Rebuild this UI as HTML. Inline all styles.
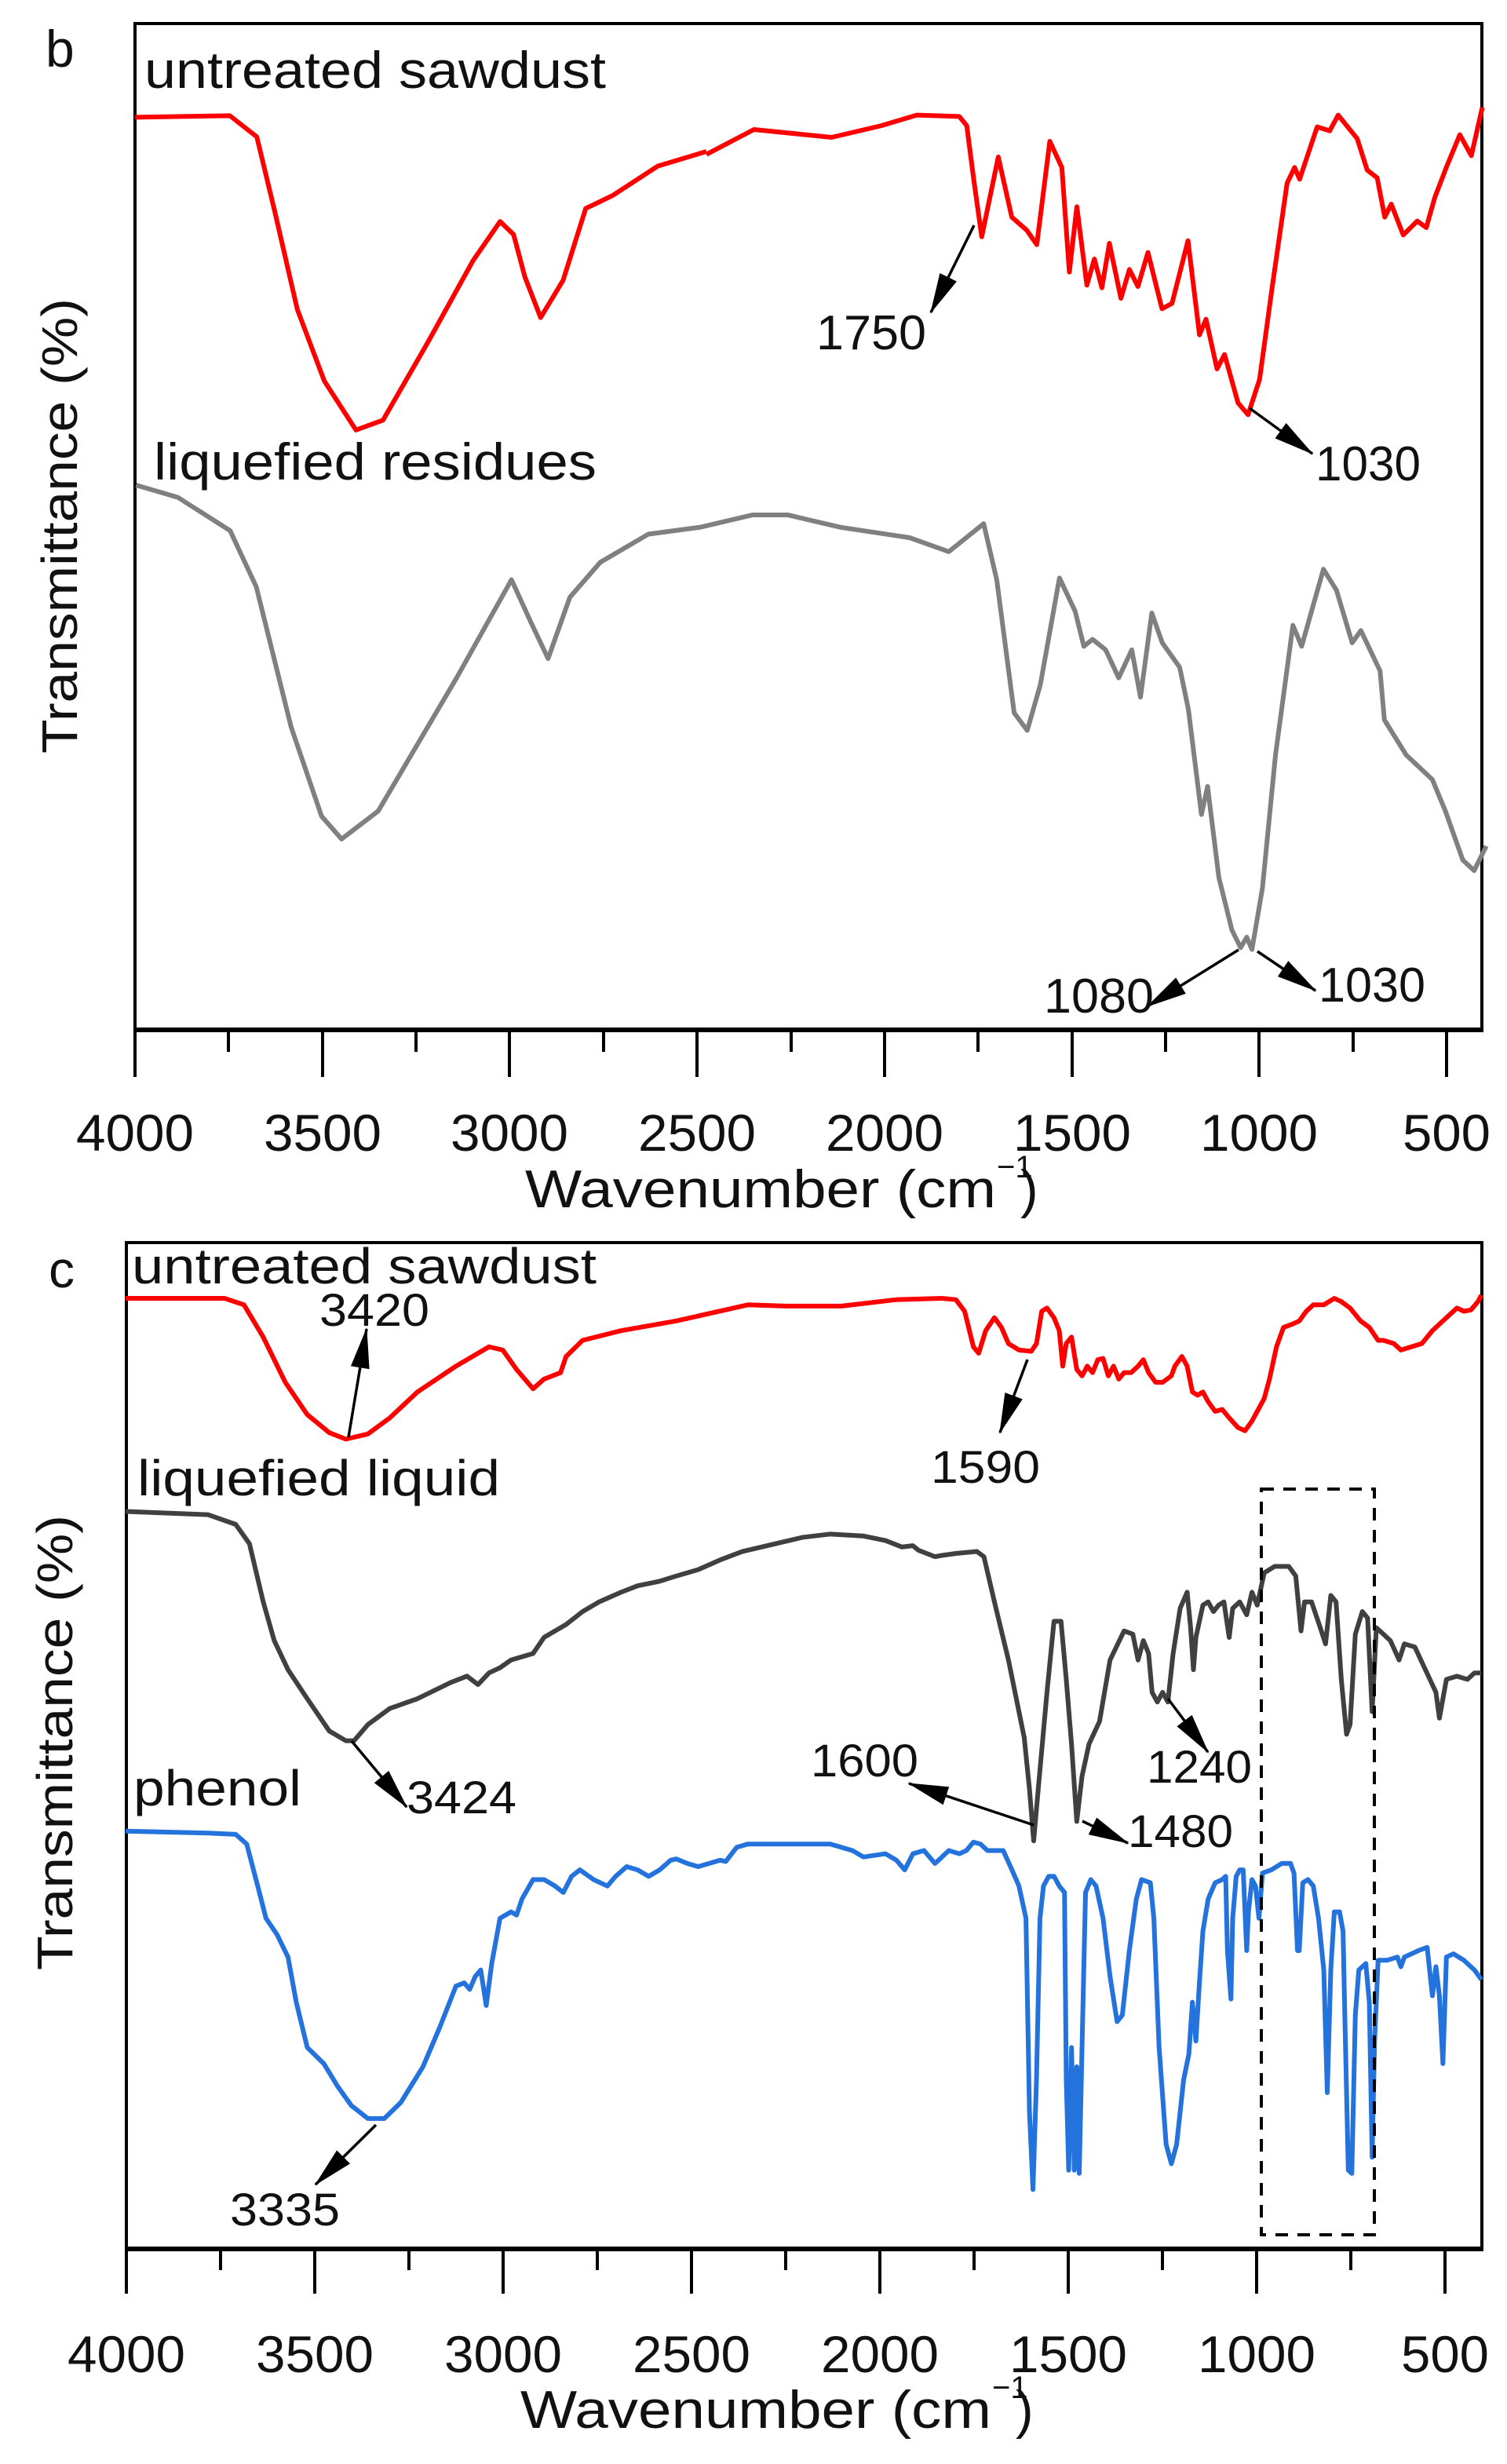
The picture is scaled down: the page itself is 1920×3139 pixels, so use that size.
<!DOCTYPE html>
<html><head><meta charset="utf-8"><style>
html,body{margin:0;padding:0;background:#fff;}
svg{display:block;}
text{font-family:"Liberation Sans",Arial,sans-serif;fill:#111;}
</style></head><body>
<svg width="1920" height="3139" viewBox="0 0 1920 3139" xmlns="http://www.w3.org/2000/svg">
<defs>
<marker id="ah" markerUnits="userSpaceOnUse" markerWidth="56" markerHeight="30" refX="50" refY="15" orient="auto">
<path d="M0,3 L52,15 L0,27 Z" fill="#000"/>
</marker>
</defs>
<rect width="1920" height="3139" fill="#fff"/>

<!-- ========== PANEL B ========== -->
<text x="58" y="85" font-size="66">b</text>
<text transform="translate(98,670) rotate(-90)" font-size="64" text-anchor="middle" textLength="580" lengthAdjust="spacingAndGlyphs">Transmittance (%)</text>
<rect x="172" y="30" width="1716" height="1282" fill="none" stroke="#000" stroke-width="4"/>
<line x1="170" y1="1312" x2="1890" y2="1312" stroke="#000" stroke-width="6"/>
<g stroke="#000" stroke-width="4">
<line x1="172" y1="1312" x2="172" y2="1372"/><line x1="291" y1="1312" x2="291" y2="1340"/>
<line x1="411" y1="1312" x2="411" y2="1372"/><line x1="530" y1="1312" x2="530" y2="1340"/>
<line x1="649" y1="1312" x2="649" y2="1372"/><line x1="769" y1="1312" x2="769" y2="1340"/>
<line x1="888" y1="1312" x2="888" y2="1372"/><line x1="1008" y1="1312" x2="1008" y2="1340"/>
<line x1="1127" y1="1312" x2="1127" y2="1372"/><line x1="1246" y1="1312" x2="1246" y2="1340"/>
<line x1="1366" y1="1312" x2="1366" y2="1372"/><line x1="1485" y1="1312" x2="1485" y2="1340"/>
<line x1="1604" y1="1312" x2="1604" y2="1372"/><line x1="1724" y1="1312" x2="1724" y2="1340"/>
<line x1="1843" y1="1312" x2="1843" y2="1372"/>
</g>
<g font-size="66" text-anchor="middle">
<text x="172" y="1466" textLength="150" lengthAdjust="spacingAndGlyphs">4000</text>
<text x="411" y="1466" textLength="150" lengthAdjust="spacingAndGlyphs">3500</text>
<text x="649" y="1466" textLength="150" lengthAdjust="spacingAndGlyphs">3000</text>
<text x="888" y="1466" textLength="150" lengthAdjust="spacingAndGlyphs">2500</text>
<text x="1127" y="1466" textLength="150" lengthAdjust="spacingAndGlyphs">2000</text>
<text x="1366" y="1466" textLength="150" lengthAdjust="spacingAndGlyphs">1500</text>
<text x="1604" y="1466" textLength="150" lengthAdjust="spacingAndGlyphs">1000</text>
<text x="1843" y="1466" textLength="112" lengthAdjust="spacingAndGlyphs">500</text>
</g>
<text x="669" y="1538" font-size="68" textLength="600" lengthAdjust="spacingAndGlyphs">Wavenumber (cm</text>
<text x="1270" y="1500" font-size="40">−1</text>
<text x="1300" y="1538" font-size="68">)</text>

<text x="184" y="112" font-size="66" textLength="588" lengthAdjust="spacingAndGlyphs">untreated sawdust</text>
<text x="196" y="611" font-size="66" textLength="564" lengthAdjust="spacingAndGlyphs">liquefied residues</text>

<g fill="none" stroke="#ff0000" stroke-width="6" stroke-linejoin="round">
<polyline vector-effect="non-scaling-stroke" transform="scale(0.574,0.415)" points="300,360 510,355 570,420 610,650 660,950 720,1170 790,1320 850,1290 950,1050 1050,800 1110,680 1140,720 1165,850 1200,975 1250,860 1300,640 1360,600 1460,510 1568,465"/>
<polyline vector-effect="non-scaling-stroke" transform="translate(900,100) scale(0.6378,0.3333)" points="0,290 95,195 250,225 350,180 420,140 505,145 520,180 535,400 550,605 583,300 610,530 640,580 660,635 686,240 710,340 725,740 740,490 760,790 775,690 790,800 805,630 828,840 845,730 862,795 882,665 910,880 930,860 962,620 985,980 998,920 1020,1110 1035,1055 1062,1240 1082,1285 1105,1150 1130,800 1160,400 1175,340 1185,385 1220,185 1245,200 1262,140 1300,230 1320,350 1340,380 1355,530 1368,480 1392,598 1420,545 1438,570 1455,455 1478,340 1505,215 1528,295 1550,110"/>
</g>
<polyline fill="none" stroke="#808080" stroke-width="6" stroke-linejoin="round" vector-effect="non-scaling-stroke" transform="translate(160,560) scale(1.1099,0.4464)" points="12,130 60,165 120,260 150,420 190,820 225,1075 248,1140 290,1060 380,680 443,400 465,520 485,625 510,450 545,350 600,270 660,250 720,215 760,215 820,250 900,280 945,320 985,240 1000,400 1020,780 1035,830 1050,700 1072,395 1090,490 1100,590 1110,570 1125,600 1140,680 1155,600 1165,735 1178,495 1190,580 1210,650 1220,770 1235,1070 1242,990 1255,1250 1270,1400 1280,1450 1287,1420 1293,1455 1305,1280 1320,900 1340,530 1350,590 1375,370 1390,430 1408,580 1418,545 1440,660 1445,800 1470,900 1500,970 1515,1060 1535,1200 1548,1230 1562,1160"/>

<g stroke="#000" stroke-width="3.5" marker-end="url(#ah)">
<line x1="1241" y1="287" x2="1186" y2="398"/>
<line x1="1592" y1="520" x2="1672" y2="578"/>
<line x1="1578" y1="1210" x2="1462" y2="1282"/>
<line x1="1602" y1="1212" x2="1676" y2="1262"/>
</g>
<g font-size="62">
<text x="1040" y="445" textLength="140" lengthAdjust="spacingAndGlyphs">1750</text>
<text x="1676" y="612" textLength="134" lengthAdjust="spacingAndGlyphs">1030</text>
<text x="1330" y="1290" textLength="140" lengthAdjust="spacingAndGlyphs">1080</text>
<text x="1680" y="1276" textLength="136" lengthAdjust="spacingAndGlyphs">1030</text>
</g>

<!-- ========== PANEL C ========== -->
<text x="62" y="1640" font-size="66">c</text>
<text transform="translate(92,2220) rotate(-90)" font-size="64" text-anchor="middle" textLength="580" lengthAdjust="spacingAndGlyphs">Transmittance (%)</text>
<rect x="161" y="1583" width="1727" height="1282" fill="none" stroke="#000" stroke-width="4"/>
<line x1="159" y1="2865" x2="1890" y2="2865" stroke="#000" stroke-width="6"/>
<g stroke="#000" stroke-width="4">
<line x1="161" y1="2865" x2="161" y2="2922"/><line x1="281" y1="2865" x2="281" y2="2892"/>
<line x1="401" y1="2865" x2="401" y2="2922"/><line x1="521" y1="2865" x2="521" y2="2892"/>
<line x1="641" y1="2865" x2="641" y2="2922"/><line x1="761" y1="2865" x2="761" y2="2892"/>
<line x1="881" y1="2865" x2="881" y2="2922"/><line x1="1001" y1="2865" x2="1001" y2="2892"/>
<line x1="1121" y1="2865" x2="1121" y2="2922"/><line x1="1241" y1="2865" x2="1241" y2="2892"/>
<line x1="1361" y1="2865" x2="1361" y2="2922"/><line x1="1481" y1="2865" x2="1481" y2="2892"/>
<line x1="1601" y1="2865" x2="1601" y2="2922"/><line x1="1721" y1="2865" x2="1721" y2="2892"/>
<line x1="1841" y1="2865" x2="1841" y2="2922"/>
</g>
<g font-size="66" text-anchor="middle">
<text x="161" y="3022" textLength="150" lengthAdjust="spacingAndGlyphs">4000</text>
<text x="401" y="3022" textLength="150" lengthAdjust="spacingAndGlyphs">3500</text>
<text x="641" y="3022" textLength="150" lengthAdjust="spacingAndGlyphs">3000</text>
<text x="881" y="3022" textLength="150" lengthAdjust="spacingAndGlyphs">2500</text>
<text x="1121" y="3022" textLength="150" lengthAdjust="spacingAndGlyphs">2000</text>
<text x="1361" y="3022" textLength="150" lengthAdjust="spacingAndGlyphs">1500</text>
<text x="1601" y="3022" textLength="150" lengthAdjust="spacingAndGlyphs">1000</text>
<text x="1841" y="3022" textLength="112" lengthAdjust="spacingAndGlyphs">500</text>
</g>
<text x="663" y="3093" font-size="68" textLength="600" lengthAdjust="spacingAndGlyphs">Wavenumber (cm</text>
<text x="1264" y="3055" font-size="40">−1</text>
<text x="1294" y="3093" font-size="68">)</text>

<text x="168" y="1635" font-size="64" textLength="592" lengthAdjust="spacingAndGlyphs">untreated sawdust</text>
<text x="175" y="1905" font-size="64" textLength="462" lengthAdjust="spacingAndGlyphs">liquefied liquid</text>
<text x="170" y="2300" font-size="64" textLength="214" lengthAdjust="spacingAndGlyphs">phenol</text>

<g fill="none" stroke="#ff0000" stroke-width="6" stroke-linejoin="round">
<polyline vector-effect="non-scaling-stroke" transform="translate(160,1580) scale(0.7015,0.8227)" points="0,90 180,90 215,100 250,150 290,220 330,270 370,298 400,308 440,300 480,275 530,235 600,195 660,165 685,170 710,200 740,230 760,215 790,205 800,180 830,155 900,140 1000,125 1130,100 1200,102 1300,102 1400,92 1483,90"/>
<polyline vector-effect="non-scaling-stroke" transform="translate(1200,1580) scale(0.4464,0.8227)" points="0,90 40,92 65,110 90,165 105,175 125,140 150,120 170,135 190,160 220,170 255,172 270,160 285,110 300,105 320,120 335,140 345,195 355,160 370,150 385,200 400,210 415,195 430,205 445,185 460,183 475,210 490,195 505,215 520,205 540,205 560,195 575,185 590,205 610,220 630,220 655,210 665,195 685,180 700,195 715,235 730,240 745,235 760,250 780,265 800,262 820,275 845,290 865,295 885,280 905,260 920,245 935,215 955,165 975,135 1000,130 1020,125 1040,110 1060,100 1090,100 1120,90 1140,95 1165,105 1195,125 1220,135 1245,155 1260,155 1290,160 1310,170 1340,165 1370,160 1400,140 1440,120 1470,105 1490,110 1510,108 1530,95 1540,85"/>
</g>
<g fill="none" stroke="#404040" stroke-width="6" stroke-linejoin="round">
<polyline vector-effect="non-scaling-stroke" transform="translate(160,1580) scale(0.7015,0.8227)" points="0,420 150,425 200,440 225,470 250,560 270,620 295,665 330,710 370,760 400,775 415,775 440,750 480,725 530,710 590,685 620,675 640,688 660,670 680,662 700,650 740,640 760,615 800,595 830,575 860,560 900,545 930,535 970,528 1000,520 1040,510 1080,495 1120,482 1180,470 1230,460 1280,455 1340,458 1380,465 1410,475 1430,473 1440,480 1470,490 1483,488"/>
<polyline vector-effect="non-scaling-stroke" transform="translate(1200,1580) scale(0.4464,0.8227)" points="0,488 40,485 100,482 120,490 150,560 190,650 235,770 250,850 262,930 275,850 300,700 320,590 340,590 355,680 370,780 385,900 400,830 420,780 450,745 480,650 520,605 545,610 560,650 575,620 590,640 600,700 615,715 630,700 645,715 660,640 680,570 700,545 710,600 718,665 725,615 745,565 760,560 775,575 790,565 805,560 820,615 830,570 850,560 870,580 885,545 900,565 910,540 920,515 950,505 990,505 1010,520 1025,605 1035,560 1055,560 1080,600 1095,625 1110,550 1125,560 1140,680 1155,765 1165,750 1180,610 1200,575 1215,585 1228,730 1240,600 1260,610 1280,620 1305,650 1320,625 1350,630 1380,665 1410,700 1420,740 1440,680 1470,675 1500,680 1520,670 1540,670"/>
</g>
<g fill="none" stroke="#2472dc" stroke-width="6" stroke-linejoin="round">
<polyline vector-effect="non-scaling-stroke" transform="translate(160,1580) scale(0.7015,0.8227)" points="0,915 150,918 200,920 220,935 240,1000 255,1050 275,1075 295,1110 310,1180 330,1250 360,1275 385,1310 410,1340 440,1360 470,1360 500,1335 540,1280 570,1220 600,1155 615,1150 625,1160 635,1140 645,1130 655,1185 665,1120 680,1050 700,1040 710,1045 720,1020 740,990 760,990 780,1000 795,1010 810,985 825,975 850,990 875,1000 890,985 910,970 930,975 950,985 970,975 990,960 1000,958 1020,965 1040,970 1060,965 1080,960 1090,962 1110,940 1130,935 1200,935 1280,935 1320,945 1340,955 1380,950 1400,960 1415,975 1430,950 1450,945 1470,965 1483,955"/>
<polyline vector-effect="non-scaling-stroke" transform="translate(1200,1580) scale(0.4464,0.8227)" points="0,955 20,945 50,950 70,945 90,932 110,935 130,945 150,945 175,945 200,975 220,1000 240,1050 250,1350 260,1470 270,1300 280,1050 290,1000 305,985 320,985 335,1000 350,1010 355,1300 362,1440 370,1250 378,1440 385,1280 392,1445 400,1250 410,1010 425,990 440,1000 460,1050 480,1140 500,1210 515,1200 535,1100 555,1020 570,990 595,995 605,1050 620,1250 640,1400 655,1430 670,1400 690,1300 705,1260 715,1180 725,1240 735,1150 745,1070 760,1020 780,995 800,990 810,985 815,1100 825,1175 830,1050 840,985 850,975 860,975 870,1100 875,1040 885,990 895,1000 905,1050 915,980 940,975 970,965 995,965 1005,980 1015,1100 1020,1100 1030,995 1045,990 1060,1000 1075,1050 1090,1130 1100,1320 1110,1130 1120,1040 1135,1040 1145,1070 1150,1200 1160,1440 1170,1445 1180,1200 1190,1130 1210,1120 1220,1180 1228,1420 1235,1240 1245,1115 1270,1115 1300,1110 1310,1125 1320,1110 1360,1100 1385,1095 1400,1170 1410,1125 1420,1170 1430,1275 1440,1110 1460,1105 1490,1115 1520,1130 1540,1145"/>
</g>

<rect x="1607" y="1897" width="144" height="950" fill="none" stroke="#000" stroke-width="4" stroke-dasharray="16,12"/>

<g stroke="#000" stroke-width="3.5" marker-end="url(#ah)">
<line x1="444" y1="1831" x2="467" y2="1693"/>
<line x1="448" y1="2218" x2="518" y2="2302"/>
<line x1="479" y1="2707" x2="402" y2="2783"/>
<line x1="1317" y1="2325" x2="1158" y2="2272"/>
<line x1="1309" y1="1732" x2="1274" y2="1825"/>
<line x1="1488" y1="2164" x2="1539" y2="2232"/>
<line x1="1379" y1="2320" x2="1437" y2="2348"/>
</g>
<g font-size="58">
<text x="407" y="1689" textLength="140" lengthAdjust="spacingAndGlyphs">3420</text>
<text x="518" y="2310" textLength="140" lengthAdjust="spacingAndGlyphs">3424</text>
<text x="293" y="2835" textLength="140" lengthAdjust="spacingAndGlyphs">3335</text>
<text x="1033" y="2263" textLength="137" lengthAdjust="spacingAndGlyphs">1600</text>
<text x="1186" y="1889" textLength="139" lengthAdjust="spacingAndGlyphs">1590</text>
<text x="1461" y="2271" textLength="134" lengthAdjust="spacingAndGlyphs">1240</text>
<text x="1437" y="2353" textLength="134" lengthAdjust="spacingAndGlyphs">1480</text>
</g>
</svg>
</body></html>
